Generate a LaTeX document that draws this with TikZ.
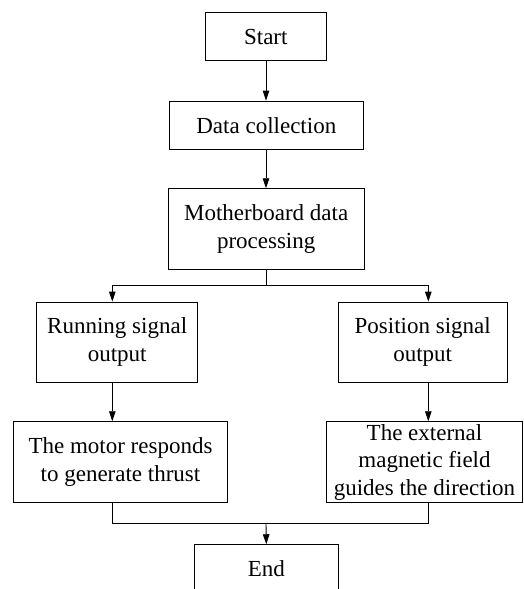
\documentclass[tikz,border=0pt]{standalone}
\usepackage{fontspec}
\setmainfont{Liberation Serif}
\usetikzlibrary{arrows.meta}
\begin{document}
\begin{tikzpicture}[x=1pt,y=-1pt,
  box/.style={draw, line width=0.9pt, inner sep=0pt, align=center,
    font=\fontsize{23}{27.5}\selectfont},
  arr/.style={-{Triangle[length=10pt,width=6.5pt]}, line width=0.9pt},
  ln/.style={line width=0.9pt}]
\useasboundingbox (0,0) rectangle (523,589);
\node[box, minimum width=121pt, minimum height=48.4pt] (start) at (265.8,36.5) {Start};
\node[box, minimum width=193.3pt, minimum height=48.3pt] (data) at (266.3,125.2) {Data collection};
\node[box, minimum width=196.3pt, minimum height=80.6pt] (mother) at (266.2,229) {Motherboard data\\processing};
\node[box, minimum width=161pt, minimum height=80.3pt] (running) at (117.2,342.2) {Running signal\\output};
\node[box, minimum width=169.3pt, minimum height=80.3pt] (position) at (422.7,342.2) {Position signal\\output};
\node[box, minimum width=213.6pt, minimum height=80.6pt] (motor) at (120.5,462) {The motor responds\\to generate thrust};
\node[box, minimum width=196.2pt, minimum height=80.6pt] (external) at (424.5,462) {The external\\magnetic field\\guides the direction};
\node[box, minimum width=144pt, minimum height=48.4pt] (end) at (266.3,568.9) {End};
\coordinate (xl) at (112.3,0);
\coordinate (xr) at (428.3,0);
\coordinate (split) at (266,285.3);
\coordinate (merge) at (266,523.3);
\draw[arr] (start.south -| split) -- (data.north -| split);
\draw[arr] (data.south -| split) -- (mother.north -| split);
\draw[ln] (mother.south -| split) -- (split);
\draw[arr] (split) -| (xl |- running.north);
\draw[arr] (split) -| (xr |- position.north);
\draw[arr] (xl |- running.south) -- (xl |- motor.north);
\draw[arr] (xr |- position.south) -- (xr |- external.north);
\draw[ln] (xl |- motor.south) |- (merge);
\draw[ln] (xr |- external.south) |- (merge);
\draw[arr] (merge) -- (end.north);
\end{tikzpicture}
\end{document}
